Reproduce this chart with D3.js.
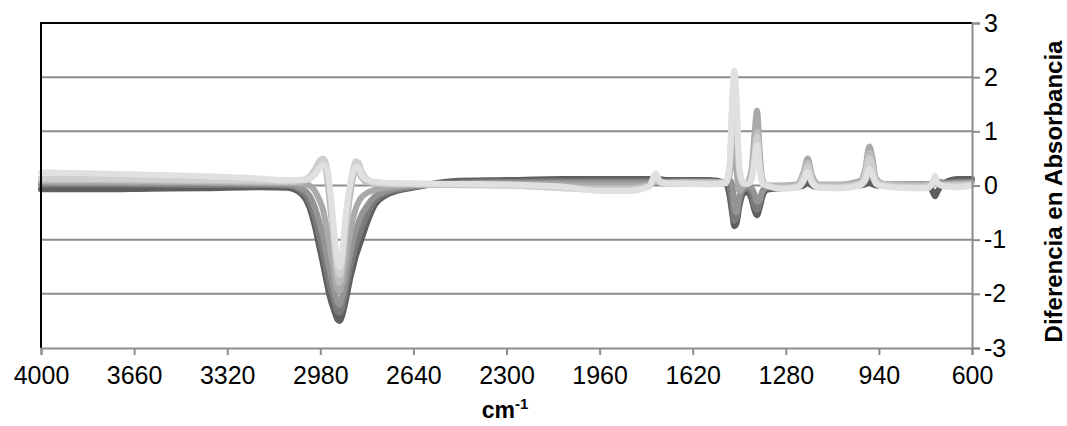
<!DOCTYPE html>
<html>
<head>
<meta charset="utf-8">
<script src="https://cdn.jsdelivr.net/npm/d3@7"></script>
<style>
  body { margin: 0; background: #fff; }
  #grafico { width: 1067px; height: 426px; }
  text { font-family: "Liberation Sans", Arial, sans-serif; fill: #000; }
</style>
</head>
<body>
<div id="grafico"></div>
<script>
// Números de onda (cm-1) donde se leyeron los valores
const numeroOnda = [4000, 3800, 3600, 3400, 3200, 3100, 3050, 3020, 3000, 2985,
  2970, 2960, 2950, 2940, 2930, 2920, 2910, 2900, 2890, 2880,
  2870, 2860, 2850, 2840, 2830, 2810, 2780, 2740, 2700, 2640,
  2500, 2300, 2100, 1960, 1850, 1780, 1755, 1740, 1720, 1650,
  1560, 1500, 1485, 1475, 1468, 1460, 1450, 1435, 1420, 1405,
  1395, 1385, 1375, 1365, 1350, 1300, 1240, 1215, 1200, 1185,
  1160, 1080, 1010, 990, 975, 965, 950, 920, 820, 760,
  745, 735, 725, 700, 650, 600];

// Diferencias en absorbancia, de la serie más oscura a la más clara
const serie1 = [-0.07, -0.07, -0.06, -0.05, -0.03, -0.04, -0.15, -0.4, -0.75, -1.1,
  -1.45, -1.7, -1.95, -2.15, -2.3, -2.45, -2.5, -2.4, -2.2, -1.95,
  -1.7, -1.5, -1.3, -1.15, -1.0, -0.7, -0.35, -0.18, -0.1, -0.04,
  0.08, 0.1, 0.12, 0.12, 0.12, 0.12, 0.13, 0.12, 0.1, 0.1,
  0.1, 0.05, -0.2, -0.55, -0.75, -0.7, -0.4, -0.15, -0.12, -0.25,
  -0.45, -0.55, -0.4, -0.2, -0.08, -0.05, -0.03, 0.0, 0.05, 0.0,
  -0.03, -0.02, 0.0, 0.02, 0.05, 0.03, 0.0, 0.0, 0.02, 0.0,
  -0.1, -0.2, -0.1, 0.05, 0.12, 0.12];
const serie2 = [0.02, 0.02, 0.02, 0.01, 0.01, 0.0, -0.1, -0.3, -0.6, -0.9,
  -1.25, -1.5, -1.75, -1.95, -2.12, -2.3, -2.35, -2.25, -2.0, -1.75,
  -1.5, -1.3, -1.1, -0.95, -0.8, -0.55, -0.28, -0.14, -0.08, -0.03,
  0.05, 0.07, 0.08, 0.08, 0.08, 0.08, 0.1, 0.09, 0.08, 0.08,
  0.08, 0.05, -0.05, -0.4, -0.65, -0.6, -0.3, -0.08, -0.05, -0.15,
  -0.35, -0.45, -0.3, -0.12, -0.05, -0.03, 0.0, 0.1, 0.2, 0.08,
  0.0, 0.0, 0.02, 0.08, 0.2, 0.15, 0.03, 0.0, 0.03, 0.02,
  0.05, 0.12, 0.08, 0.05, 0.07, 0.07];
const serie3 = [0.05, 0.05, 0.04, 0.04, 0.03, 0.02, -0.05, -0.18, -0.4, -0.65,
  -0.95, -1.2, -1.45, -1.7, -1.92, -2.12, -2.2, -2.05, -1.8, -1.5,
  -1.25, -1.0, -0.82, -0.68, -0.55, -0.38, -0.2, -0.1, -0.05, -0.01,
  0.03, 0.05, 0.05, 0.05, 0.05, 0.05, 0.08, 0.06, 0.06, 0.07,
  0.07, 0.05, 0.1, 0.0, -0.4, -0.5, -0.2, -0.05, 0.0, -0.05,
  -0.15, -0.3, -0.25, -0.1, -0.03, -0.02, 0.0, 0.2, 0.4, 0.15,
  0.0, 0.0, 0.05, 0.2, 0.55, 0.4, 0.08, 0.02, 0.03, 0.02,
  0.05, 0.1, 0.06, 0.04, 0.05, 0.06];
const serie4 = [0.08, 0.07, 0.07, 0.06, 0.05, 0.05, 0.03, 0.0, -0.1, -0.25,
  -0.45, -0.7, -1.0, -1.3, -1.6, -1.88, -1.95, -1.8, -1.5, -1.15,
  -0.85, -0.6, -0.42, -0.3, -0.22, -0.14, -0.08, -0.04, -0.01, 0.01,
  0.02, 0.03, 0.02, 0.0, 0.0, 0.02, 0.08, 0.05, 0.05, 0.06,
  0.06, 0.06, 0.2, 0.6, 0.8, 0.3, -0.1, 0.0, 0.05, 0.3,
  0.9, 1.38, 0.6, 0.1, 0.0, 0.0, 0.02, 0.25, 0.5, 0.2,
  0.02, 0.02, 0.08, 0.3, 0.72, 0.55, 0.12, 0.03, 0.02, 0.01,
  0.03, 0.05, 0.03, 0.02, 0.03, 0.04];
const serie5 = [0.1, 0.1, 0.09, 0.08, 0.07, 0.06, 0.07, 0.12, 0.22, 0.35,
  0.42, 0.3, -0.1, -0.6, -1.1, -1.6, -1.8, -1.55, -1.05, -0.55,
  -0.15, 0.15, 0.3, 0.28, 0.15, 0.06, 0.03, 0.02, 0.02, 0.02,
  0.01, 0.0, -0.03, -0.05, -0.05, 0.0, 0.1, 0.06, 0.05, 0.05,
  0.05, 0.06, 0.3, 1.2, 1.6, 1.1, 0.2, 0.02, 0.05, 0.2,
  0.6, 1.0, 0.4, 0.05, 0.0, -0.02, 0.0, 0.2, 0.42, 0.15,
  0.0, 0.0, 0.05, 0.25, 0.6, 0.45, 0.1, 0.02, 0.0, 0.0,
  0.02, 0.04, 0.02, 0.01, 0.02, 0.03];
const serie6 = [0.13, 0.12, 0.11, 0.1, 0.09, 0.08, 0.1, 0.16, 0.3, 0.44,
  0.5, 0.42, 0.15, -0.35, -0.95, -1.45, -1.65, -1.4, -0.85, -0.35,
  0.05, 0.3, 0.45, 0.42, 0.28, 0.12, 0.05, 0.04, 0.03, 0.03,
  0.02, 0.0, -0.05, -0.08, -0.08, -0.02, 0.15, 0.06, 0.04, 0.05,
  0.04, 0.05, 0.35, 1.5, 1.9, 1.4, 0.3, 0.03, 0.03, 0.15,
  0.5, 0.9, 0.35, 0.05, 0.0, -0.05, -0.02, 0.15, 0.35, 0.1,
  -0.02, -0.03, 0.03, 0.2, 0.5, 0.35, 0.06, 0.0, -0.03, -0.02,
  0.03, 0.12, 0.03, 0.0, 0.0, 0.02];
const serie7 = [0.24, 0.22, 0.2, 0.17, 0.13, 0.1, 0.1, 0.13, 0.2, 0.3,
  0.38, 0.35, 0.15, -0.25, -0.8, -1.3, -1.5, -1.25, -0.7, -0.25,
  0.05, 0.25, 0.35, 0.32, 0.2, 0.1, 0.07, 0.05, 0.04, 0.04,
  0.03, 0.02, -0.02, -0.1, -0.1, -0.02, 0.22, 0.08, 0.04, 0.03,
  0.02, 0.04, 0.4, 1.7, 2.12, 1.6, 0.35, 0.05, 0.03, 0.1,
  0.4, 0.75, 0.3, 0.03, 0.0, -0.06, -0.04, 0.08, 0.25, 0.05,
  -0.04, -0.05, 0.0, 0.1, 0.3, 0.2, 0.03, -0.02, -0.05, -0.05,
  0.05, 0.18, 0.05, -0.02, -0.03, 0.0];

const series = [serie1, serie2, serie3, serie4, serie5, serie6, serie7];
const colores = ["#5e5e5e", "#7a7a7a", "#949494", "#a9a9a9", "#bdbdbd", "#cfcfcf", "#e0e0e0"];

// Etiquetas de los ejes
const ticksX = [4000, 3660, 3320, 2980, 2640, 2300, 1960, 1620, 1280, 940, 600];
const ticksY = [-3, -2, -1, 0, 1, 2, 3];

const width = 1067;
const height = 426;
const margen = { izq: 41, der: 972, arriba: 23, abajo: 348 };

const svg = d3
  .select("#grafico")
  .append("svg")
  .attr("width", width)
  .attr("height", height);

// Escalas: el eje x va invertido (4000 a la izquierda)
const escalaX = d3.scaleLinear().domain([4000, 600]).range([margen.izq, margen.der]);
const escalaY = d3.scaleLinear().domain([-3, 3]).range([margen.abajo, margen.arriba]);

// Líneas de grilla horizontales
svg.append("g")
  .selectAll("line")
  .data(ticksY.filter(d => d > -3 && d < 3))
  .join("line")
  .attr("x1", margen.izq)
  .attr("x2", margen.der)
  .attr("y1", d => escalaY(d))
  .attr("y2", d => escalaY(d))
  .attr("stroke", "#8c8c8c")
  .attr("stroke-width", 2);

// Curvas de cada serie
const linea = d3.line()
  .x((d, i) => escalaX(numeroOnda[i]))
  .y(d => escalaY(d))
  .curve(d3.curveMonotoneX);

svg.append("g")
  .selectAll("path")
  .data(series)
  .join("path")
  .attr("d", d => linea(d))
  .attr("fill", "none")
  .attr("stroke", (d, i) => colores[i])
  .attr("stroke-width", 6)
  .attr("stroke-linejoin", "round")
  .attr("stroke-linecap", "round");

// Borde superior e izquierdo en negro
svg.append("path")
  .attr("d", `M${margen.izq},${margen.abajo}V${margen.arriba}H${margen.der}`)
  .attr("fill", "none")
  .attr("stroke", "#000")
  .attr("stroke-width", 2);

// Eje x abajo
const ejeX = d3.axisBottom(escalaX)
  .tickValues(ticksX)
  .tickFormat(d => String(d))
  .tickSize(7)
  .tickPadding(11);
const gX = svg.append("g")
  .attr("transform", `translate(0,${margen.abajo})`)
  .call(ejeX);
gX.select(".domain").attr("stroke", "#8c8c8c").attr("stroke-width", 2);
gX.selectAll(".tick line").attr("stroke", "#8c8c8c").attr("stroke-width", 2);
gX.selectAll(".tick text")
  .attr("font-size", 25)
  .attr("font-family", "Liberation Sans, Arial, sans-serif")
  .attr("fill", "#000");

// Eje y a la derecha
const ejeY = d3.axisRight(escalaY)
  .tickValues(ticksY)
  .tickFormat(d => String(d))
  .tickSize(8)
  .tickPadding(4);
const gY = svg.append("g")
  .attr("transform", `translate(${margen.der},0)`)
  .call(ejeY);
gY.select(".domain").attr("stroke", "#8c8c8c").attr("stroke-width", 2);
gY.selectAll(".tick line").attr("stroke", "#8c8c8c").attr("stroke-width", 2);
gY.selectAll(".tick text")
  .attr("font-size", 25)
  .attr("font-family", "Liberation Sans, Arial, sans-serif")
  .attr("fill", "#000");

// Título eje x
const tituloX = svg.append("text")
  .attr("x", 505)
  .attr("y", 418)
  .attr("text-anchor", "middle")
  .attr("font-size", 23)
  .attr("font-weight", "bold");
tituloX.append("tspan").text("cm");
tituloX.append("tspan").attr("dy", -9).attr("font-size", 15).text("-1");

// Título eje y (un poco hacia adentro para que no se corte)
svg.append("text")
  .attr("transform", `translate(1062,${(margen.arriba + margen.abajo) / 2 + 6}) rotate(-90)`)
  .attr("text-anchor", "middle")
  .attr("font-size", 24)
  .attr("font-weight", "bold")
  .text("Diferencia en Absorbancia");
</script>
</body>
</html>
